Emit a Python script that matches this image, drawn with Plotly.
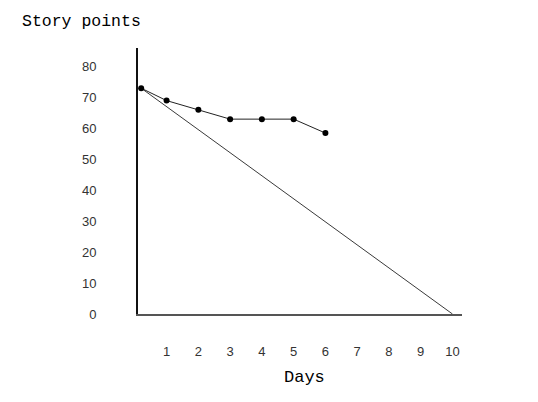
import plotly.graph_objects as go

# burndown readings
days = [0.2, 1, 2, 3, 4, 5, 6]
remaining = [73, 69, 66, 63, 63, 63, 58.5]

ideal_days = [0.2, 10]
ideal_points = [73, 0]

x_ticks = list(range(1, 11))
y_ticks = list(range(0, 81, 10))

mono = "Courier New, Liberation Mono, monospace"
sans = "Arial, Liberation Sans, sans-serif"

W, H = 530, 394  # page body adds 8px margin

fig = go.Figure()

fig.add_trace(go.Scatter(
    x=ideal_days, y=ideal_points, mode="lines",
    line={"color": "#3a3a3a", "width": 1}, showlegend=False,
))
fig.add_trace(go.Scatter(
    x=days, y=remaining, mode="lines+markers",
    line={"color": "#222", "width": 1},
    marker={"color": "#000", "size": 6}, showlegend=False,
))

fig.update_xaxes(
    range=[0.1, 10.3], tickvals=x_ticks, showgrid=False, zeroline=False,
    showline=True, linecolor="#555", linewidth=2, ticks="",
    ticklabelstandoff=24, tickfont={"family": sans, "size": 13, "color": "#333"},
)
fig.update_yaxes(
    range=[0, 86], tickvals=y_ticks, showgrid=False, zeroline=False,
    showline=True, linecolor="#111", linewidth=2, ticks="",
    ticklabelstandoff=37, tickfont={"family": sans, "size": 13, "color": "#333"},
)

fig.add_annotation(
    text="Days", xref="paper", yref="paper", x=0.515, y=-0.24,
    xanchor="center", yanchor="middle", showarrow=False,
    font={"family": mono, "size": 17, "color": "#000"},
)

fig.update_layout(
    width=W, height=H,
    title={"text": "Story points", "x": 14 / W, "xanchor": "left",
           "y": 1 - 12 / H, "yanchor": "middle",
           "font": {"family": mono, "size": 16.5, "color": "#000"}},
    paper_bgcolor="white", plot_bgcolor="white",
    margin={"l": 130, "r": 76, "t": 40, "b": 88},
)

fig.write_html("out.html")
